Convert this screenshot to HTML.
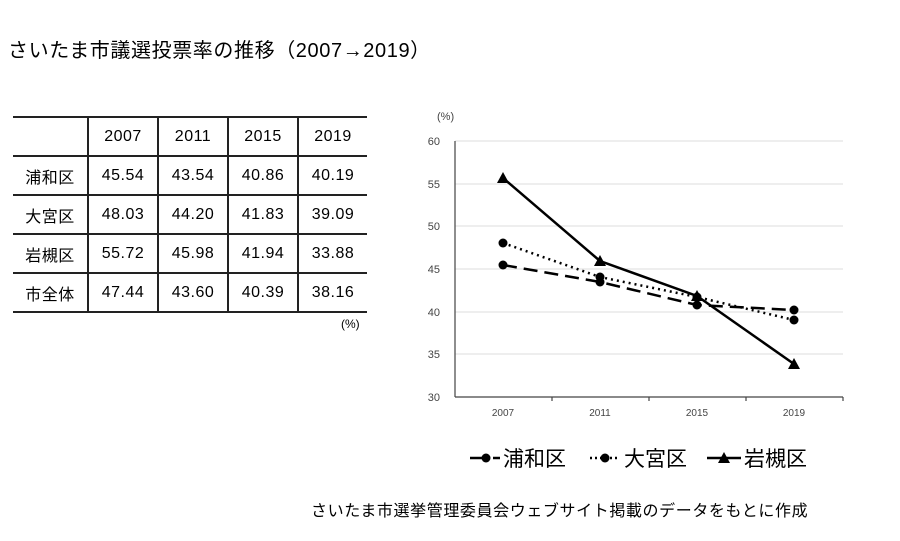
<!DOCTYPE html>
<html><head><meta charset="utf-8"><style>
body{margin:0;width:900px;height:541px;background:#fff;overflow:hidden;font-family:"Liberation Sans","Noto Sans CJK JP",sans-serif;color:#000}
.t{position:absolute;white-space:nowrap}
table{position:absolute;left:13px;top:116px;border-collapse:collapse;font-size:16px;table-layout:fixed;width:354px}
td{height:37px;padding:0;text-align:center;border-top:2px solid #222;border-bottom:2px solid #222;letter-spacing:0.5px}
td+td{border-left:2px solid #222}
</style></head><body>
<div class="t" style="left:8px;top:34px;font-size:20px;letter-spacing:0.6px">さいたま市議選投票率の推移（2007→2019）</div>
<table>
<colgroup><col style="width:75px"><col style="width:70px"><col style="width:70px"><col style="width:70px"><col style="width:69px"></colgroup>
<tr><td></td><td>2007</td><td>2011</td><td>2015</td><td>2019</td></tr>
<tr><td>浦和区</td><td>45.54</td><td>43.54</td><td>40.86</td><td>40.19</td></tr>
<tr><td>大宮区</td><td>48.03</td><td>44.20</td><td>41.83</td><td>39.09</td></tr>
<tr><td>岩槻区</td><td>55.72</td><td>45.98</td><td>41.94</td><td>33.88</td></tr>
<tr><td>市全体</td><td>47.44</td><td>43.60</td><td>40.39</td><td>38.16</td></tr>
</table>
<div class="t" style="left:341px;top:317px;font-size:12px">(%)</div>
<svg width="900" height="541" style="position:absolute;left:0;top:0" font-family="Liberation Sans, sans-serif" font-size="11" fill="#444">
<g stroke="#ddd" stroke-width="1">
<line x1="455" y1="141" x2="843" y2="141"/><line x1="455" y1="184" x2="843" y2="184"/><line x1="455" y1="226" x2="843" y2="226"/><line x1="455" y1="269" x2="843" y2="269"/><line x1="455" y1="312" x2="843" y2="312"/><line x1="455" y1="354" x2="843" y2="354"/>
</g>
<g stroke="#444" stroke-width="1.2"><line x1="455" y1="141" x2="455" y2="397"/><line x1="455" y1="397" x2="843" y2="397"/>
<line x1="552" y1="397" x2="552" y2="401"/><line x1="649" y1="397" x2="649" y2="401"/><line x1="746" y1="397" x2="746" y2="401"/><line x1="843" y1="397" x2="843" y2="401"/></g>
<g text-anchor="end"><text x="440" y="145">60</text><text x="440" y="188">55</text><text x="440" y="230">50</text><text x="440" y="273">45</text><text x="440" y="316">40</text><text x="440" y="358">35</text><text x="440" y="401">30</text></g>
<text x="437" y="120">(%)</text>
<g text-anchor="middle" font-size="10"><text x="503" y="416">2007</text><text x="600" y="416">2011</text><text x="697" y="416">2015</text><text x="794" y="416">2019</text></g>
<g stroke="#000" stroke-width="2.5" fill="none">
<polyline points="503,265 600,282 697,305 794,310" stroke-dasharray="14,7"/>
<polyline points="503,243 600,277 697,297 794,320" stroke-dasharray="2,4"/>
<polyline points="503,178 600,261 697,296 794,364"/>
</g>
<g fill="#000">
<circle cx="503" cy="265" r="4.5"/><circle cx="600" cy="282" r="4.5"/><circle cx="697" cy="305" r="4.5"/><circle cx="794" cy="310" r="4.5"/>
<circle cx="503" cy="243" r="4.5"/><circle cx="600" cy="277" r="4.5"/><circle cx="697" cy="297" r="4.5"/><circle cx="794" cy="320" r="4.5"/>
<polygon points="503,172 497,183 509,183"/><polygon points="600,255 594,266 606,266"/><polygon points="697,290 691,301 703,301"/><polygon points="794,358 788,369 800,369"/>
</g>
<g stroke="#000" stroke-width="2.5">
<line x1="470" y1="458" x2="486" y2="458"/><line x1="493" y1="458" x2="500" y2="458"/>
<line x1="590" y1="458" x2="620" y2="458" stroke-dasharray="2,3"/>
<line x1="707" y1="458" x2="741" y2="458"/>
</g>
<g fill="#000"><circle cx="486" cy="458" r="4.5"/><circle cx="605" cy="458" r="4.5"/><polygon points="724,452 718,463 730,463"/></g>
<g fill="#000" font-family="Liberation Sans, Noto Sans CJK JP, sans-serif" font-size="21"><text x="503" y="466">浦和区</text><text x="624" y="466">大宮区</text><text x="744" y="466">岩槻区</text></g>
</svg>
<div class="t" style="left:311px;top:497px;font-size:16px;letter-spacing:0.6px">さいたま市選挙管理委員会ウェブサイト掲載のデータをもとに作成</div>
</body></html>
